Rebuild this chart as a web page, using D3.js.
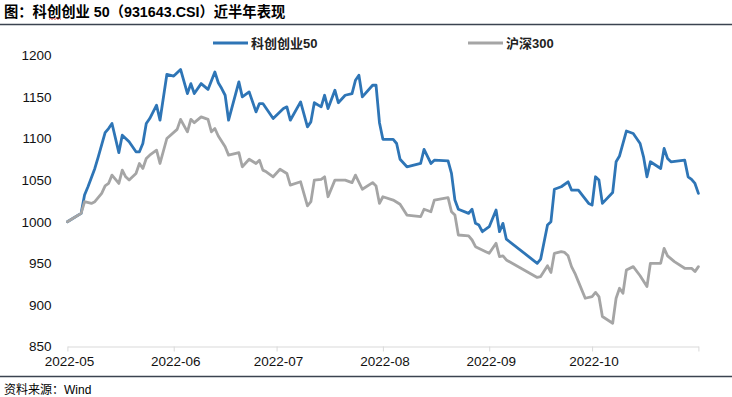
<!DOCTYPE html>
<html>
<head>
<meta charset="utf-8">
<script src="https://cdn.jsdelivr.net/npm/d3@7"></script>
<style>
  body { margin: 0; background: #fff; }
  svg { display: block; font-family: "Liberation Sans", "Noto Sans CJK SC", Arial, sans-serif; }
</style>
</head>
<body>
<svg id="chart" width="732" height="397"></svg>
<script>
// ===== data =====
const seriesNames = ['科创创业50', '沪深300'];

const kcDates = ['05-05','05-09','05-10','05-11','05-13','05-14','05-16','05-17','05-18','05-20','05-21','05-23','05-24','05-25','05-26','05-27','05-28','05-29','05-31',
  '06-01','06-03','06-05','06-07','06-09','06-10','06-11','06-13','06-15','06-17','06-18','06-19','06-20','06-21','06-24','06-25','06-27','06-29','06-30',
  '07-01','07-04','07-07','07-08','07-09','07-12','07-14','07-15','07-16','07-18','07-19','07-20','07-22','07-23','07-25','07-27','07-28','07-29','07-30',
  '08-02','08-03','08-04','08-05','08-08','08-09','08-10','08-12','08-16','08-17','08-19','08-20','08-24','08-25','08-26','08-27','08-30','08-31',
  '09-01','09-02','09-03','09-05','09-07','09-08','09-09','09-10','09-19','09-20','09-22','09-23','09-24','09-26','09-28','09-29',
  '10-01','10-04','10-05','10-06','10-07','10-08','10-11','10-12','10-13','10-15','10-17','10-19','10-20','10-21','10-22','10-25','10-26','10-27','10-28',
  '11-01','11-02','11-03','11-04','11-05'];
const kcValues = [1000,1010,1032,1042,1064,1078,1107,1112,1118,1083,1104,1096,1090,1084,1084,1094,1118,1124,1140,
  1122,1177,1175,1183,1154,1166,1154,1166,1159,1180,1167,1160,1152,1122,1168,1150,1156,1132,1142,
  1142,1124,1136,1138,1122,1144,1114,1120,1143,1138,1152,1136,1158,1143,1152,1154,1170,1176,1150,
  1164,1164,1119,1099,1099,1094,1075,1066,1070,1087,1070,1074,1073,1058,1026,1015,1010,1015,
  998,996,988,994,1014,988,998,979,950,955,996,1000,1039,1042,1048,1038,
  1038,1022,1020,1054,1050,1022,1035,1072,1079,1109,1106,1094,1078,1054,1072,1064,1088,1076,1072,
  1074,1054,1051,1046,1034];

const hsDates = ['05-05','05-09','05-10','05-12','05-13','05-15','05-16','05-17','05-18','05-20','05-21','05-22','05-23','05-25','05-26','05-27','05-28','05-29','05-31',
  '06-01','06-03','06-06','06-07','06-09','06-10','06-11','06-13','06-15','06-16','06-17','06-18','06-20','06-21','06-24','06-25','06-27','06-29','06-30',
  '07-01','07-02','07-04','07-06','07-08','07-09','07-12','07-14','07-15','07-16','07-18','07-19','07-20','07-22','07-25','07-27','07-28','07-30',
  '08-02','08-03','08-04','08-05','08-08','08-10','08-12','08-16','08-17','08-19','08-20','08-24','08-25','08-26','08-27','08-30','08-31',
  '09-01','09-04','09-05','09-07','09-08','09-09','09-10','09-19','09-20','09-22','09-23','09-24','09-26','09-27','09-28','09-29','09-30',
  '10-01','10-03','10-05','10-06','10-07','10-08','10-11','10-12','10-13','10-14','10-15','10-17','10-19','10-21','10-22','10-25','10-26','10-27','10-29',
  '11-01','11-03','11-04','11-05'];
const hsValues = [1000,1010,1024,1022,1024,1034,1043,1046,1056,1046,1062,1054,1050,1058,1070,1064,1076,1080,1086,
  1070,1100,1111,1123,1108,1123,1119,1126,1123,1108,1112,1103,1090,1080,1083,1066,1075,1070,1074,
  1062,1060,1054,1063,1058,1044,1048,1019,1024,1050,1051,1054,1030,1050,1050,1047,1056,1039,
  1047,1043,1022,1030,1026,1021,1008,1006,1015,1012,1026,1029,1012,1008,984,983,978,
  970,964,962,974,958,959,954,933,934,947,939,962,964,963,959,946,938,
  928,908,910,915,910,886,878,908,920,914,942,946,935,922,950,950,968,959,952,
  944,944,940,946];

const xDomain = ['05-05', '11-05'];
const xTickDates = ['05-05', '06-05', '07-05', '08-05', '09-05', '10-05', '11-05'];
const xTickLabels = ['2022-05', '2022-06', '2022-07', '2022-08', '2022-09', '2022-10', ''];
const yTicks = [850, 900, 950, 1000, 1050, 1100, 1150, 1200];

const COLORS = ['#2e75b6', '#a5a5a5'];

// ===== setup =====
const parse = d3.timeParse('%Y-%m-%d');
const toDate = (s) => parse('2022-' + s);

const svg = d3.select('#chart');
const W = 732, H = 397;
const plot = { left: 67.4, right: 698.4, top: 55.3, bottom: 346.5 };

const x = d3.scaleTime().domain(xDomain.map(toDate)).range([plot.left, plot.right]);
const y = d3.scaleLinear().domain([850, 1200]).range([plot.bottom, plot.top]);

// title + rules
svg.append('text')
  .attr('x', 4).attr('y', 17)
  .attr('font-size', 14.3).attr('font-weight', 'bold').attr('fill', '#000')
  .text('图：科创创业 50（931643.CSI）近半年表现');

// little spell-check squiggle under the title, as in the source doc
svg.append('path')
  .attr('d', 'M49,19.5 l1.5,-1.2 l1.5,1.2 l1.5,-1.2 l1.5,1.2 l1.5,-1.2 l1.5,1.2 l1.5,-1.2 l1.5,1.2')
  .attr('fill', 'none').attr('stroke', '#e03030').attr('stroke-width', 0.8);

svg.append('line').attr('x1', 0).attr('x2', W).attr('y1', 24.5).attr('y2', 24.5)
  .attr('stroke', '#3b4350').attr('stroke-width', 1.5);
svg.append('line').attr('x1', 0).attr('x2', W).attr('y1', 376.5).attr('y2', 376.5)
  .attr('stroke', '#3b4350').attr('stroke-width', 1.5);

svg.append('text')
  .attr('x', 4).attr('y', 394)
  .attr('font-size', 12).attr('fill', '#000')
  .text('资料来源：Wind');

// ===== axes =====
const xAxis = d3.axisBottom(x)
  .tickValues(xTickDates.map(toDate))
  .tickSize(5).tickSizeOuter(0).tickPadding(5)
  .tickFormat((d, i) => xTickLabels[i]);

const gx = svg.append('g').attr('transform', `translate(0,${plot.bottom})`).call(xAxis);
gx.select('.domain').attr('stroke', '#d9d9d9').attr('stroke-width', 1);
gx.selectAll('.tick line').attr('stroke', '#d9d9d9');
gx.selectAll('.tick text').attr('font-size', 13.5).attr('fill', '#111')
  .attr('font-family', '"Liberation Sans", Arial, sans-serif').attr('dx', 1.5);

const yAxis = d3.axisLeft(y).tickValues(yTicks).tickSize(0).tickPadding(0).tickFormat(d3.format('d'));
const gy = svg.append('g').attr('transform', 'translate(51.5,0)').call(yAxis);
gy.select('.domain').remove();
gy.selectAll('.tick text').attr('font-size', 13.5).attr('fill', '#111')
  .attr('font-family', '"Liberation Sans", Arial, sans-serif');

// ===== lines =====
const line = d3.line().x(d => x(d.date)).y(d => y(d.value));

const series = [
  { name: seriesNames[0], color: COLORS[0], pts: kcDates.map((d, i) => ({ date: toDate(d), value: kcValues[i] })) },
  { name: seriesNames[1], color: COLORS[1], pts: hsDates.map((d, i) => ({ date: toDate(d), value: hsValues[i] })) }
];

svg.append('g').selectAll('path').data(series).enter().append('path')
  .attr('d', s => line(s.pts))
  .attr('fill', 'none')
  .attr('stroke', s => s.color)
  .attr('stroke-width', 2.8)
  .attr('stroke-linejoin', 'round')
  .attr('stroke-linecap', 'round');

// ===== legend =====
const legendX = [213, 468];
const lg = svg.append('g').selectAll('g').data(series).enter().append('g')
  .attr('transform', (s, i) => `translate(${legendX[i]},43)`);
lg.append('line').attr('x1', 0).attr('x2', 35).attr('y1', 0).attr('y2', 0)
  .attr('stroke', s => s.color).attr('stroke-width', 2.8);
lg.append('text').attr('x', 38).attr('y', 4.5)
  .attr('font-size', 13).attr('font-weight', 'bold').attr('fill', '#222')
  .text(s => s.name);
</script>
</body>
</html>
